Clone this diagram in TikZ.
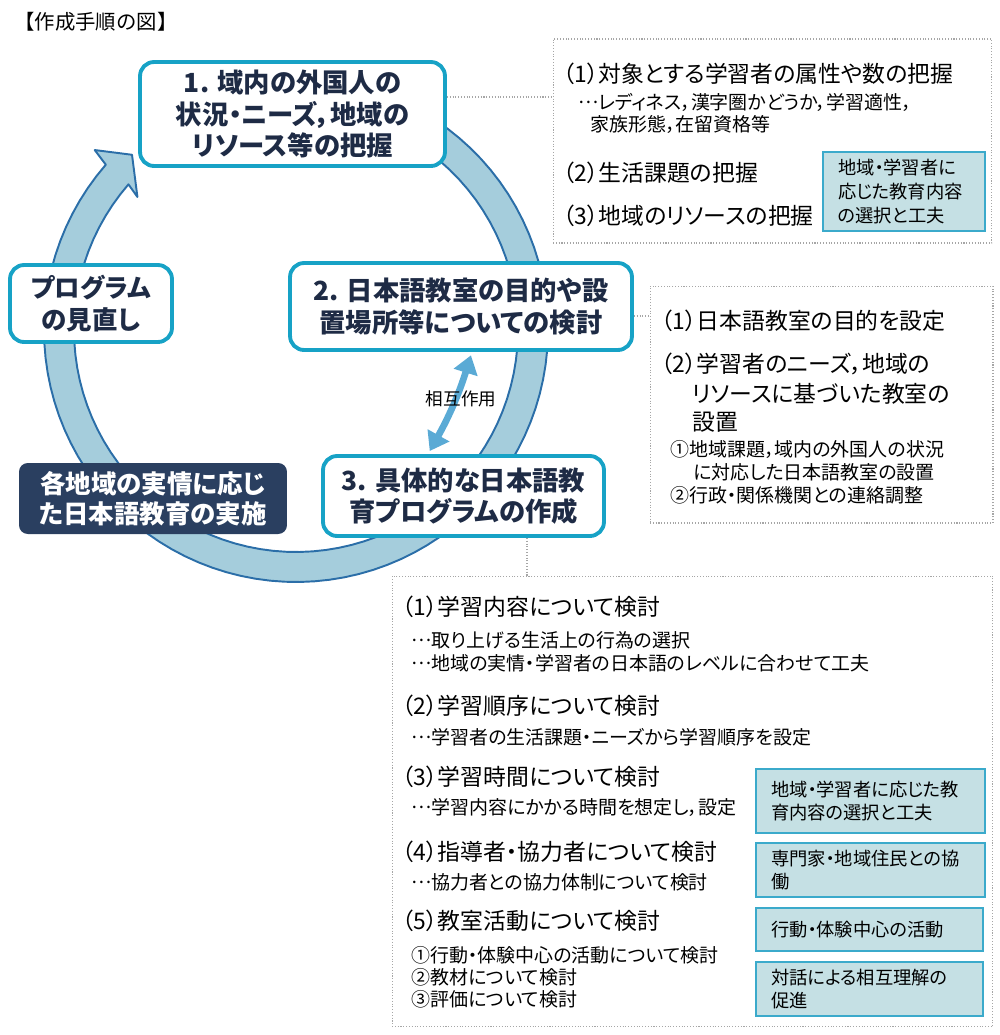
\documentclass[tikz,border=0pt]{standalone}
\usepackage{fontspec}
\setmainfont{Noto Sans CJK JP}[RawFeature=+palt]
\usetikzlibrary{arrows.meta}

\definecolor{stepline}{HTML}{17A2C6}
\definecolor{steptext}{HTML}{1E2B45}
\definecolor{ringfill}{HTML}{A5CDDC}
\definecolor{ringline}{HTML}{2B6EA8}
\definecolor{darkbox}{HTML}{2A3F60}
\definecolor{tealfill}{HTML}{C5E0E4}
\definecolor{tealline}{HTML}{3BAACB}
\definecolor{mutualblue}{HTML}{5AAAD5}
\newcommand{\midellip}{\raisebox{0.3em}{…}}

\begin{document}
\begin{tikzpicture}[x=0.02cm,y=-0.02cm,
  stepbox/.style={draw=stepline,line width=2.2pt,fill=white,rounded corners=8pt,
    text=steptext,font=\fontsize{15}{18}\selectfont\bfseries,align=center,inner sep=0pt},
  darkstep/.style={fill=darkbox,rounded corners=5pt,text=white,
    font=\fontsize{14.5}{17}\selectfont\bfseries,align=center,inner sep=0pt},
  notebox/.style={draw=gray!70,densely dotted,line width=0.6pt,inner sep=0pt},
  link/.style={draw=gray!70,densely dotted,line width=0.6pt},
  head/.style={anchor=west,inner sep=0pt,font=\fontsize{13}{15}\selectfont},
  sub/.style={anchor=west,inner sep=0pt,font=\fontsize{10.8}{12}\selectfont},
  tealbox/.style={draw=tealline,fill=tealfill,line width=0.7pt,inner xsep=0.3cm,inner ysep=0pt,
    align=left,font=\fontsize{10.4}{13.4}\selectfont},
  mutual/.style={draw=mutualblue,line width=3.8pt,shorten <=2pt,shorten >=2pt,
    {Triangle[length=0.36cm,width=0.48cm]}-{Triangle[length=0.36cm,width=0.48cm]}}]
\useasboundingbox (0,0) rectangle (1000,1035);

\node[anchor=west,inner sep=0pt,font=\fontsize{11.6}{13}\selectfont\addfontfeatures{RawFeature=-palt}] (title) at (14,22) {【作成手順の図】};

% cycle ring
\fill[ringfill,draw=ringline,line width=1.1pt,line join=round]
  plot[domain=-80:221,samples=90] ({296+252*cos(\x)},{330+252*sin(\x)})
  -- ({296+270*cos(221.8)},{330+270*sin(221.8)})
  -- ({296+240*cos(226.9)},{330+240*sin(226.9)})
  -- ({296+207*cos(220)},{330+207*sin(220)})
  -- ({296+222*cos(221)},{330+222*sin(221)})
  -- plot[domain=221:-80,samples=90] ({296+222*cos(\x)},{330+222*sin(\x)})
  -- cycle;

% steps
\node[stepbox,minimum width=6.1cm,minimum height=2.08cm] (step1) at (292.5,114)
  {1. 域内の外国人の\\状況・ニーズ，地域の\\リソース等の把握};
\node[stepbox,minimum width=3.24cm,minimum height=1.54cm,font=\fontsize{14.5}{18}\selectfont\bfseries] (review) at (91,303.5)
  {プログラム\\の見直し};
\node[stepbox,minimum width=6.84cm,minimum height=1.74cm] (step2) at (461,306.5)
  {2. 日本語教室の目的や設\\置場所等についての検討};
\node[stepbox,minimum width=5.62cm,minimum height=1.6cm] (step3) at (463.5,496)
  {3. 具体的な日本語教\\育プログラムの作成};
\node[darkstep,minimum width=5.36cm,minimum height=1.42cm] (practice) at (153,498.5)
  {各地域の実情に応じ\\た日本語教育の実施};

\draw[mutual] (step2.south -| 472,0) to[bend left=6] (step3.north -| 428,0);
\node[inner sep=0pt,font=\fontsize{10}{12}\selectfont] (mutuallabel) at (461,399) {相互作用};

% note boxes
\node[notebox,minimum width=8.78cm,minimum height=4.08cm] (noteA) at (772.5,141) {};
\node[notebox,minimum width=6.86cm,minimum height=4.74cm] (noteB) at (821.5,404.5) {};
\node[notebox,minimum width=12.02cm,minimum height=9.02cm] (noteC) at (692.5,801.5) {};

\draw[link] (step1.east |- 0,97) -- (noteA.west |- 0,97);
\draw[link] (step2.east |- 0,316) -- (noteB.west |- 0,316);
\draw[link] (step3.south -| 527,0) -- (noteC.north -| 527,0);

\node[head] (a1) at (563,74) {（1）対象とする学習者の属性や数の把握};
\node[sub] (a2) at (578,102) {\midellip レディネス，漢字圏かどうか，学習適性，};
\node[sub] (a3) at (590,124) {家族形態，在留資格等};
\node[head] (a4) at (563,173) {（2）生活課題の把握};
\node[head] (a5) at (563,216) {（3）地域のリソースの把握};
\node[tealbox,text width=2.64cm,minimum height=1.58cm] (tA) at (904,191.5)
  {地域・学習者に\\応じた教育内容\\の選択と工夫};

\node[head] (b1) at (661,321) {（1）日本語教室の目的を設定};
\node[head] (b2) at (661,364) {（2）学習者のニーズ，地域の};
\node[head] (b3) at (692,394) {リソースに基づいた教室の};
\node[head] (b4) at (692,422) {設置};
\node[sub] (b5) at (670,449) {①地域課題，域内の外国人の状況};
\node[sub] (b6) at (693,472) {に対応した日本語教室の設置};
\node[sub] (b7) at (670,495) {②行政・関係機関との連絡調整};

\node[head] (c1) at (402,607) {（1）学習内容について検討};
\node[sub] (c2) at (411,640) {\midellip 取り上げる生活上の行為の選択};
\node[sub] (c3) at (411,663) {\midellip 地域の実情・学習者の日本語のレベルに合わせて工夫};
\node[head] (c4) at (402,706) {（2）学習順序について検討};
\node[sub] (c5) at (411,737) {\midellip 学習者の生活課題・ニーズから学習順序を設定};
\node[head] (c6) at (402,777) {（3）学習時間について検討};
\node[sub] (c7) at (411,807) {\midellip 学習内容にかかる時間を想定し，設定};
\node[head] (c8) at (402,852) {（4）指導者・協力者について検討};
\node[sub] (c9) at (411,882) {\midellip 協力者との協力体制について検討};
\node[head] (c10) at (402,921) {（5）教室活動について検討};
\node[sub] (c11) at (411,955) {①行動・体験中心の活動について検討};
\node[sub] (c12) at (411,977) {②教材について検討};
\node[sub] (c13) at (411,999) {③評価について検討};

\node[tealbox,text width=3.98cm,minimum height=1.28cm] (t1) at (870.5,801)
  {地域・学習者に応じた教\\育内容の選択と工夫};
\node[tealbox,text width=3.98cm,minimum height=1.08cm] (t2) at (870.5,870)
  {専門家・地域住民との協\\働};
\node[tealbox,text width=3.94cm,minimum height=0.86cm] (t3) at (869.5,929.5)
  {行動・体験中心の活動};
\node[tealbox,text width=3.94cm,minimum height=1.08cm] (t4) at (869.5,989)
  {対話による相互理解の\\促進};
\end{tikzpicture}
\end{document}
